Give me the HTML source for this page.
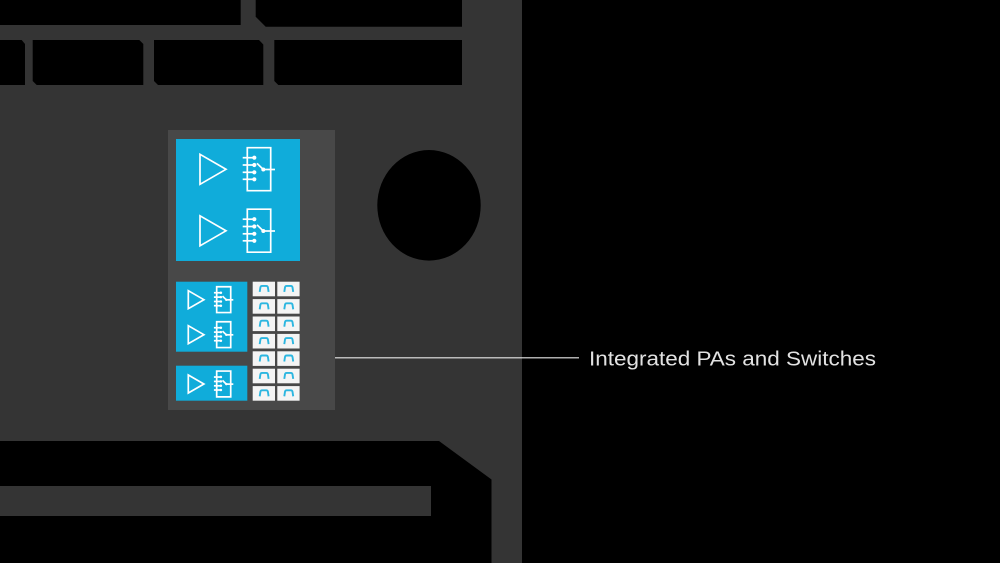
<!DOCTYPE html>
<html>
<head>
<meta charset="utf-8">
<style>
  html, body { margin:0; padding:0; background:#000; }
  body { width:1000px; height:563px; overflow:hidden; }
  svg { display:block; }
</style>
</head>
<body>
<svg width="1000" height="563" viewBox="0 0 1000 563" xmlns="http://www.w3.org/2000/svg">
  <rect x="0" y="0" width="1000" height="563" fill="#000"/>
  <!-- main gray board -->
  <rect x="0" y="0" width="522" height="563" fill="#343434"/>

  <!-- top cutouts -->
  <rect x="0" y="0" width="240.7" height="25" fill="#000"/>
  <polygon points="255.7,0 462,0 462,26.7 265.7,26.7 255.7,16.7" fill="#000"/>
  <polygon points="0,40 21.7,40 25,44 25,85 0,85" fill="#000"/>
  <polygon points="32.7,40 139.3,40 143.3,44 143.3,85 36.7,85 32.7,81" fill="#000"/>
  <polygon points="154,40 259,40 263.3,44.5 263.3,85 158,85 154,81" fill="#000"/>
  <polygon points="274.3,40 462,40 462,85 278.3,85 274.3,81" fill="#000"/>

  <!-- bottom cutout -->
  <polygon points="0,441 439,441 491.5,479.5 491.5,563 0,563" fill="#000"/>
  <rect x="0" y="486" width="431" height="30" fill="#343434"/>

  <!-- hole -->
  <ellipse cx="429" cy="205.3" rx="51.7" ry="55.3" fill="#000"/>

  <!-- module panel -->
  <rect x="168" y="130" width="167" height="280" fill="#484848"/>

  <!-- big blue block -->
  <rect x="176" y="139" width="124" height="122" fill="#10acda"/>

  <defs>
    <g id="pasw" fill="none" stroke="#fff">
      <polygon points="200,154.3 200,184.3 226,169.3" stroke-width="1.7" vector-effect="non-scaling-stroke"/>
      <rect x="247.3" y="147.7" width="23.4" height="43" stroke-width="1.7" vector-effect="non-scaling-stroke"/>
      <line x1="242.7" y1="157.7" x2="254.3" y2="157.7" stroke-width="1.7" vector-effect="non-scaling-stroke"/>
      <line x1="242.7" y1="165" x2="254.3" y2="165" stroke-width="1.7" vector-effect="non-scaling-stroke"/>
      <line x1="242.7" y1="172.3" x2="254.3" y2="172.3" stroke-width="1.7" vector-effect="non-scaling-stroke"/>
      <line x1="242.7" y1="179.3" x2="254.3" y2="179.3" stroke-width="1.7" vector-effect="non-scaling-stroke"/>
      <circle cx="254.3" cy="157.7" r="2.1" fill="#fff" stroke="none"/>
      <circle cx="254.3" cy="165" r="2.1" fill="#fff" stroke="none"/>
      <circle cx="254.3" cy="172.3" r="2.1" fill="#fff" stroke="none"/>
      <circle cx="254.3" cy="179.3" r="2.1" fill="#fff" stroke="none"/>
      <line x1="257" y1="163.3" x2="263.3" y2="169.5" stroke-width="1.7" vector-effect="non-scaling-stroke"/>
      <circle cx="263.3" cy="169.5" r="2" fill="#fff" stroke="none"/>
      <line x1="263.3" y1="169.5" x2="275" y2="169.5" stroke-width="1.7" vector-effect="non-scaling-stroke"/>
    </g>
    <g id="filt">
      <rect x="0" y="0" width="22.3" height="14.6" fill="#f4f4f4"/>
      <path d="M7 10.2 L7.7 5.6 Q8 4.2 9.4 4.2 L13.5 4.2 Q14.9 4.2 15.2 5.6 L15.9 10.2" fill="none" stroke="#2cb6e0" stroke-width="1.9"/>
    </g>
  </defs>

  <use href="#pasw"/>
  <use href="#pasw" transform="translate(0,61.5)"/>

  <!-- small blue blocks -->
  <rect x="176" y="281.7" width="71.3" height="70" fill="#10acda"/>
  <rect x="176" y="365.7" width="71.3" height="35" fill="#10acda"/>

  <g>
    <use href="#pasw" transform="translate(188.3,290.7) scale(0.6) translate(-200,-154.3)"/>
    <use href="#pasw" transform="translate(188.3,325.7) scale(0.6) translate(-200,-154.3)"/>
    <use href="#pasw" transform="translate(188.3,375) scale(0.6) translate(-200,-154.3)"/>
  </g>

  <!-- filter tiles -->
  <use href="#filt" x="252.7" y="281.7"/>
  <use href="#filt" x="277.3" y="281.7"/>
  <use href="#filt" x="252.7" y="299.1"/>
  <use href="#filt" x="277.3" y="299.1"/>
  <use href="#filt" x="252.7" y="316.5"/>
  <use href="#filt" x="277.3" y="316.5"/>
  <use href="#filt" x="252.7" y="333.9"/>
  <use href="#filt" x="277.3" y="333.9"/>
  <use href="#filt" x="252.7" y="351.3"/>
  <use href="#filt" x="277.3" y="351.3"/>
  <use href="#filt" x="252.7" y="368.7"/>
  <use href="#filt" x="277.3" y="368.7"/>
  <use href="#filt" x="252.7" y="386.1"/>
  <use href="#filt" x="277.3" y="386.1"/>

  <!-- callout -->
  <line x1="335" y1="357.8" x2="579" y2="357.8" stroke="#e8e8e8" stroke-width="1.1"/>
  <text x="589" y="365.5" font-family="'Liberation Sans', sans-serif" font-size="20.5" fill="#e2e2e2" textLength="287" lengthAdjust="spacingAndGlyphs">Integrated PAs and Switches</text>
</svg>
</body>
</html>
